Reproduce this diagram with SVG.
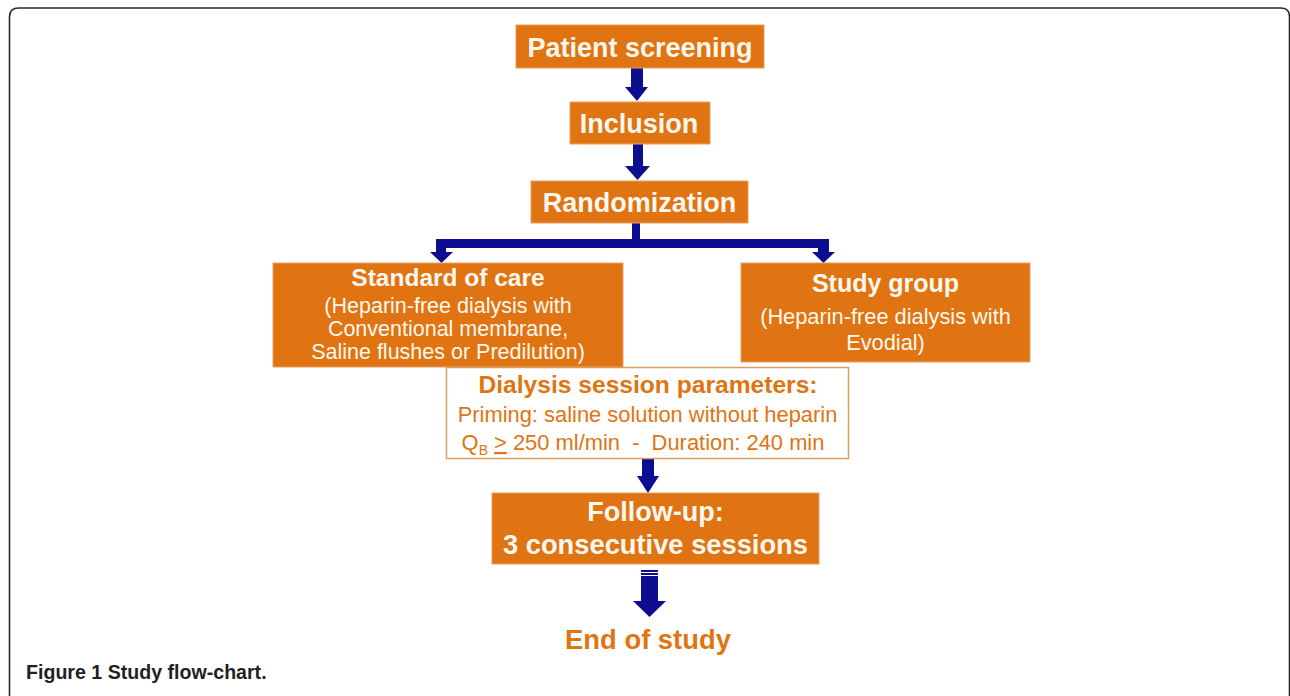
<svg xmlns="http://www.w3.org/2000/svg" width="1290" height="696" viewBox="0 0 1290 696">
<style>
.box{fill:#e07312;stroke:#e8a060;stroke-width:1}
.wb{fill:#ffffff;stroke:#d8a060;stroke-width:1.5}
.arr{fill:#0d0d90}
.t{font-family:"Liberation Sans",Arial,sans-serif;fill:#fff8ee;text-anchor:middle}
.b{font-weight:bold}
.o{fill:#df7512}
</style>
<rect width="1290" height="696" fill="#ffffff"/>
<path d="M9.5 700 V17 Q9.5 8 18.5 8 H1281 Q1289 8 1289.5 16 V700" fill="none" stroke="#2a2a2a" stroke-width="1.6"/>
<g id="connectors">
<polygon class="arr" points="631,68 643,68 643,87 648,87 637,101 625,87 631,87"/>
<polygon class="arr" points="633,144 643,144 643,166 650,166 637.5,180 625,166 633,166"/>
<path class="arr" d="M632 223 H640 V239 H829 V252 H835 L823.5 263 L812 252 H818 V248 H446 V252 H453 L441.5 263 L430 252 H436 V239 H632 Z"/>
<polygon class="arr" points="642,459 654,459 654,476 659,476 648,493 637,476 642,476"/>
<rect class="arr" x="641" y="570" width="17" height="2"/>
<rect class="arr" x="641" y="573" width="17" height="2"/>
<polygon class="arr" points="641,576 658,576 658,601 666,601 649.5,617 633,601 641,601"/>
</g>
<g id="patient-screening">
<rect class="box" x="516" y="25" width="248" height="43"/>
<text class="t b" x="640" y="57" font-size="27">Patient screening</text>
</g>
<g id="inclusion">
<rect class="box" x="570" y="102" width="140" height="42"/>
<text class="t b" x="639" y="133" font-size="27">Inclusion</text>
</g>
<g id="randomization">
<rect class="box" x="531" y="181" width="217" height="42"/>
<text class="t b" x="639.5" y="212" font-size="27">Randomization</text>
</g>
<g id="standard-of-care">
<rect class="box" x="273" y="263" width="350" height="104"/>
<text class="t b" x="448" y="286" font-size="24.5">Standard of care</text>
<text class="t" x="448" y="312.5" font-size="21.5">(Heparin-free dialysis with</text>
<text class="t" x="448" y="335.5" font-size="21.5">Conventional membrane,</text>
<text class="t" x="448" y="358.5" font-size="21.5">Saline flushes or Predilution)</text>
</g>
<g id="study-group">
<rect class="box" x="741" y="263" width="289" height="99"/>
<text class="t b" x="885.5" y="292" font-size="25">Study group</text>
<text class="t" x="885.5" y="324" font-size="21.8">(Heparin-free dialysis with</text>
<text class="t" x="885.5" y="350" font-size="21.8">Evodial)</text>
</g>
<g id="dialysis-parameters">
<rect class="wb" x="446.5" y="367.5" width="402" height="91"/>
<text class="t b o" x="648" y="393" font-size="24.6">Dialysis session parameters:</text>
<text class="t o" x="647.5" y="422" font-size="21.9">Priming: saline solution without heparin</text>
<text class="t o" x="643" y="450" font-size="21.9" xml:space="preserve">Q<tspan font-size="14" dy="5">B</tspan><tspan dy="-5"> </tspan><tspan text-decoration="underline">&gt;</tspan> 250 ml/min  -  Duration: 240 min</text>
</g>
<g id="follow-up">
<rect class="box" x="492" y="493" width="327" height="71"/>
<text class="t b" x="655.5" y="521" font-size="27">Follow-up:</text>
<text class="t b" x="655.5" y="554" font-size="27.3">3 consecutive sessions</text>
</g>
<g id="end-of-study">
<text class="t b o" x="648" y="649" font-size="27.4">End of study</text>
</g>
<text x="26" y="679" font-family="'Liberation Sans',Arial,sans-serif" font-weight="bold" font-size="19.6" fill="#231f20">Figure 1 Study flow-chart.</text>
</svg>
